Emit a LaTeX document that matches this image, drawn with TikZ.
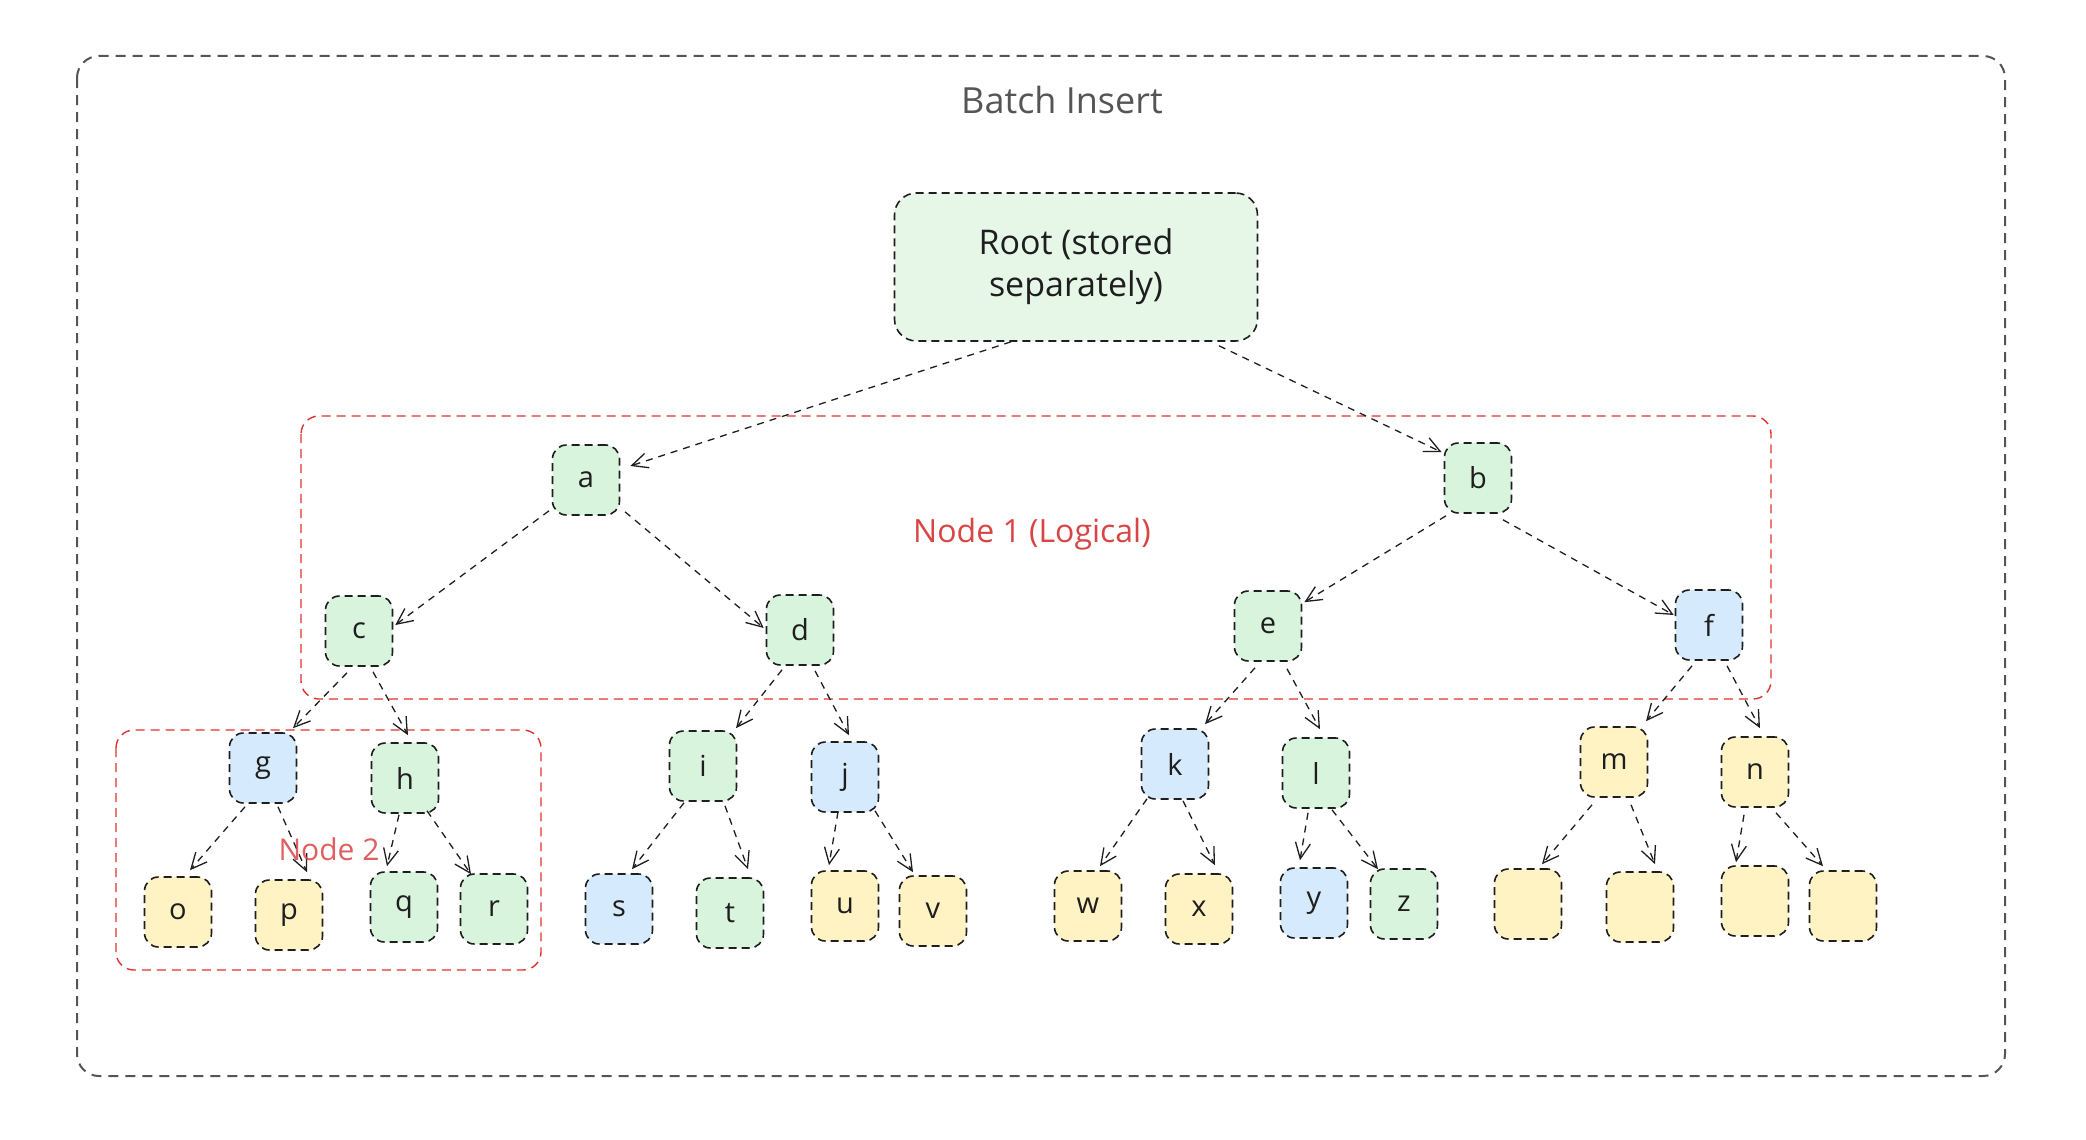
\documentclass[tikz,border=0pt]{standalone}
\usepackage{fontspec}
\setmainfont{Open Sans}
\usetikzlibrary{arrows.meta}
\definecolor{ink}{HTML}{1E1E1E}
\definecolor{frame}{HTML}{555555}
\definecolor{redline}{HTML}{E03131}
\definecolor{redtext}{HTML}{D94444}
\definecolor{gfill}{HTML}{D9F4DD}
\definecolor{bfill}{HTML}{D6EAFD}
\definecolor{yfill}{HTML}{FFF3C4}
\definecolor{rfill}{HTML}{E6F7E8}
\tikzset{
  box/.style={draw=ink, line width=1.6pt, dash pattern=on 8pt off 5pt, rounded corners=14pt,
    minimum width=67pt, minimum height=70pt, inner sep=0pt, text=ink,
    font=\fontsize{29}{34}\selectfont},
  gbox/.style={box, fill=gfill},
  bbox/.style={box, fill=bfill},
  ybox/.style={box, fill=yfill},
  arr/.style={draw=ink, line width=1.3pt, dash pattern=on 7pt off 6pt,
    -{Straight Barb[length=16pt,width=15pt,line width=1.3pt]}},
  group/.style={draw=redline, line width=1.4pt, dash pattern=on 9pt off 6pt, rounded corners=18pt},
}
\begin{document}
\begin{tikzpicture}[x=1pt,y=-1pt]
\useasboundingbox (0,0) rectangle (2086,1140);
% outer frame
\draw[frame, line width=2pt, dash pattern=on 10pt off 7pt, rounded corners=22pt] (77,56) rectangle (2005,1076);
\node[text=frame, font=\fontsize{36}{42}\selectfont] (title) at (1062,100) {Batch Insert};
% groups
\draw[group] (301,416) rectangle (1771,699);
\draw[group] (116,730) rectangle (541,970);
\node[text=redtext, font=\fontsize{32}{38}\selectfont] (n1lab) at (1032,534) {Node 1 (Logical)};
% root
\node[box, fill=rfill, minimum width=363pt, minimum height=148pt, rounded corners=22pt,
  align=center, font=\fontsize{34}{42}\selectfont] (root) at (1076,267) {Root (stored\\separately)};
% level 1
\node[gbox] (a) at (586,480) {a};
\node[gbox] (b) at (1478,478) {b};
% level 2
\node[gbox] (c) at (359,631) {c};
\node[gbox] (d) at (800,630) {d};
\node[gbox] (e) at (1268,626) {e};
\node[bbox] (f) at (1709,625) {f};
% level 3
\node[bbox] (g) at (263,768) {g};
\node[gbox] (h) at (405,778) {h};
\node[gbox] (i) at (703,766) {i};
\node[bbox] (j) at (845,777) {j};
\node[bbox] (k) at (1175,764) {k};
\node[gbox] (l) at (1316,773) {l};
\node[ybox] (m) at (1614,762) {m};
\node[ybox] (n) at (1755,772) {n};
% leaves
\node[ybox] (o) at (178,912) {o};
\node[ybox] (p) at (289,915) {p};
\node[gbox] (q) at (404,907) {q};
\node[gbox] (r) at (494,909) {r};
\node[bbox] (s) at (619,909) {s};
\node[gbox] (t) at (730,913) {t};
\node[ybox] (u) at (845,906) {u};
\node[ybox] (v) at (933,911) {v};
\node[ybox] (w) at (1088,906) {w};
\node[ybox] (x) at (1199,909) {x};
\node[bbox] (y) at (1314,903) {y};
\node[gbox] (z) at (1404,904) {z};
\node[ybox] (m1) at (1528,904) {};
\node[ybox] (m2) at (1640,907) {};
\node[ybox] (n1) at (1755,901) {};
\node[ybox] (n2) at (1843,906) {};
% edges
\draw[arr] ([shift={(-65,0)}]root.south) -- ([shift={(10,-14)}]a.east);
\draw[arr] ([shift={(143,4)}]root.south) -- ([shift={(-2,10)}]b.north west);
\draw[arr] ([shift={(-37,-5)}]a.south) -- ([shift={(2,-6)}]c.east);
\draw[arr] ([shift={(39,-4)}]a.south) -- ([shift={(-2,-2)}]d.west);
\draw[arr] ([shift={(-32,2)}]b.south) -- ([shift={(2,12)}]e.north east);
\draw[arr] ([shift={(25,6)}]b.south) -- ([shift={(-1,-10)}]f.west);
\draw[arr] ([shift={(-12,6)}]c.south) -- ([shift={(30,-4)}]g.north);
\draw[arr] ([shift={(14,5)}]c.south) -- ([shift={(3,-7)}]h.north);
\draw[arr] ([shift={(-18,4)}]d.south) -- ([shift={(33,-2)}]i.north);
\draw[arr] ([shift={(15,5)}]d.south) -- ([shift={(4,-6)}]j.north);
\draw[arr] ([shift={(-13,6)}]e.south) -- ([shift={(30,-4)}]k.north);
\draw[arr] ([shift={(19,7)}]e.south) -- ([shift={(4,-8)}]l.north);
\draw[arr] ([shift={(-17,5)}]f.south) -- ([shift={(32,-5)}]m.north);
\draw[arr] ([shift={(18,5)}]f.south) -- ([shift={(5,-8)}]n.north);
\draw[arr] ([shift={(-18,3)}]g.south) -- ([shift={(12,-6)}]o.north);
\draw[arr] ([shift={(15,3)}]g.south) -- ([shift={(18,-7)}]p.north);
\draw[arr] ([shift={(-6,1)}]h.south) -- ([shift={(-17,-5)}]q.north);
\draw[arr] ([shift={(22,-3)}]h.south) -- ([shift={(-23,1)}]r.north);
\draw[arr] ([shift={(-19,1)}]i.south) -- ([shift={(13,-4)}]s.north);
\draw[arr] ([shift={(22,4)}]i.south) -- ([shift={(18,-8)}]t.north);
\draw[arr] ([shift={(-7,-1)}]j.south) -- ([shift={(-16,-5)}]u.north);
\draw[arr] ([shift={(30,-2)}]j.south) -- ([shift={(-20,-3)}]v.north);
\draw[arr] ([shift={(-28,-1)}]k.south) -- ([shift={(12,-4)}]w.north);
\draw[arr] ([shift={(8,1)}]k.south) -- ([shift={(16,-8)}]x.north);
\draw[arr] ([shift={(-8,4)}]l.south) -- ([shift={(-14,-7)}]y.north);
\draw[arr] ([shift={(16,1)}]l.south) -- ([shift={(-26,1)}]z.north);
\draw[arr] ([shift={(-22,7)}]m.south) -- ([shift={(14,-4)}]m1.north);
\draw[arr] ([shift={(17,7)}]m.south) -- ([shift={(15,-7)}]m2.north);
\draw[arr] ([shift={(-11,7)}]n.south) -- ([shift={(-19,-3)}]n1.north);
\draw[arr] ([shift={(21,5)}]n.south) -- ([shift={(-20,-4)}]n2.north);
\node[text=redtext, opacity=0.85, font=\fontsize{30}{36}\selectfont] (n2lab) at (329,849) {Node 2};
\end{tikzpicture}
\end{document}
